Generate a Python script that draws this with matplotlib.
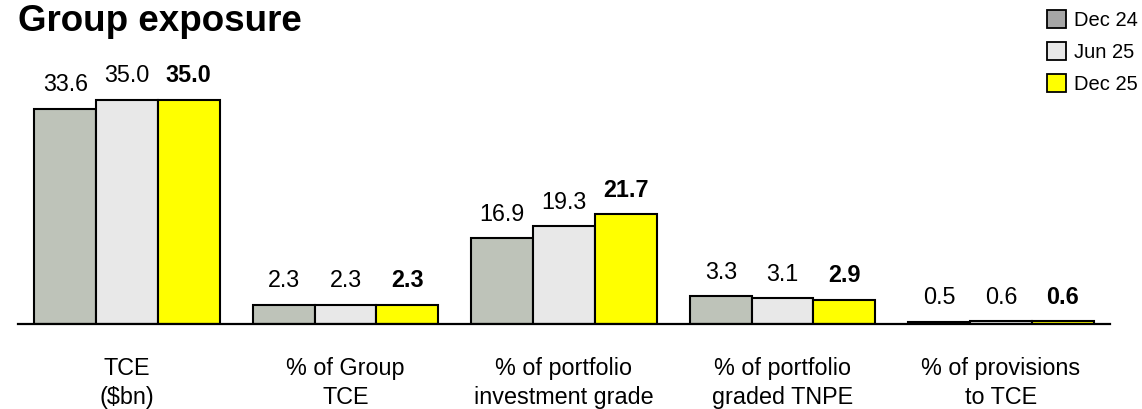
#!/usr/bin/env python3
"""Group exposure: five metric groups, three reporting dates each."""

import matplotlib
matplotlib.use("Agg")
import matplotlib.pyplot as plt
from matplotlib.lines import Line2D
from matplotlib.patches import Patch

plt.rcParams["font.family"] = ["Liberation Sans", "DejaVu Sans"]

# ---- data ---------------------------------------------------------------
PERIODS = ["Dec 24", "Jun 25", "Dec 25"]
CATEGORIES = [
    "TCE\n($bn)",
    "% of Group\nTCE",
    "% of portfolio\ninvestment grade",
    "% of portfolio\ngraded TNPE",
    "% of provisions\nto TCE",
]
DEC24 = [33.6, 2.3, 16.9, 3.3, 0.5]
JUN25 = [35.0, 2.3, 19.3, 3.1, 0.6]
DEC25 = [35.0, 2.3, 21.7, 2.9, 0.6]

# each group has its own vertical scale in the source slide
AXIS_TOPS = [50.6, 39.0, 64.0, 38.8, 65.0]

BAR_COLORS = ["#BEC3B9", "#E8E8E8", "#FFFF00"]
LEGEND_COLORS = ["#A6A6A6", "#E8E8E8", "#FFFF00"]

W, H = 1142, 409
BASELINE_PX = 324          # distance of the zero line from the top
GROUP_PX = 218.5           # width given to each group
FIRST_LEFT_PX = 17.75
BAR_W = 0.2823             # in group units


def make_figure():
    fig = plt.figure(figsize=(W / 100, H / 100), dpi=100)
    series = [DEC24, JUN25, DEC25]
    offsets = [-BAR_W, 0.0, BAR_W]
    y0 = (H - BASELINE_PX) / H

    for i, cat in enumerate(CATEGORIES):
        left = (FIRST_LEFT_PX + i * GROUP_PX) / W
        ax = fig.add_axes([left, y0, GROUP_PX / W, BASELINE_PX / H])
        for k, vals in enumerate(series):
            bars = ax.bar([offsets[k]], [vals[i]], width=BAR_W,
                          color=BAR_COLORS[k], edgecolor="black",
                          linewidth=1.5)
            ax.bar_label(bars, fmt="%.1f", padding=9, fontsize=16.8,
                         fontweight="bold" if k == 2 else "normal")
        ax.set_xlim(-0.5, 0.5)
        ax.set_ylim(0, AXIS_TOPS[i])
        ax.set_xticks([0])
        ax.set_xticklabels([cat], fontsize=16.8, linespacing=1.33)
        ax.tick_params(axis="x", length=0, pad=24)
        ax.set_yticks([])
        for spine in ax.spines.values():
            spine.set_visible(False)
        ax.patch.set_alpha(0)

    # one continuous zero line under all groups
    x_end = (FIRST_LEFT_PX + len(CATEGORIES) * GROUP_PX) / W
    fig.add_artist(Line2D([FIRST_LEFT_PX / W, x_end], [y0, y0],
                          color="black", linewidth=1.6, zorder=0.5))

    fig.text(18 / W, 1 - 31 / H, "Group exposure", fontsize=26.5,
             fontweight="bold", va="baseline", ha="left")

    handles = [Patch(facecolor=c, edgecolor="black", linewidth=1.3)
               for c in LEGEND_COLORS]
    fig.legend(handles, PERIODS, loc="upper right",
               bbox_to_anchor=(1138 / W, 1 - 10 / H), frameon=False,
               fontsize=14.5, handlelength=0.95, handleheight=1.0,
               handletextpad=0.4, labelspacing=0.6, borderpad=0,
               borderaxespad=0)

    fig.savefig("out.png", dpi=100)
    plt.close(fig)


if __name__ == "__main__":
    make_figure()
